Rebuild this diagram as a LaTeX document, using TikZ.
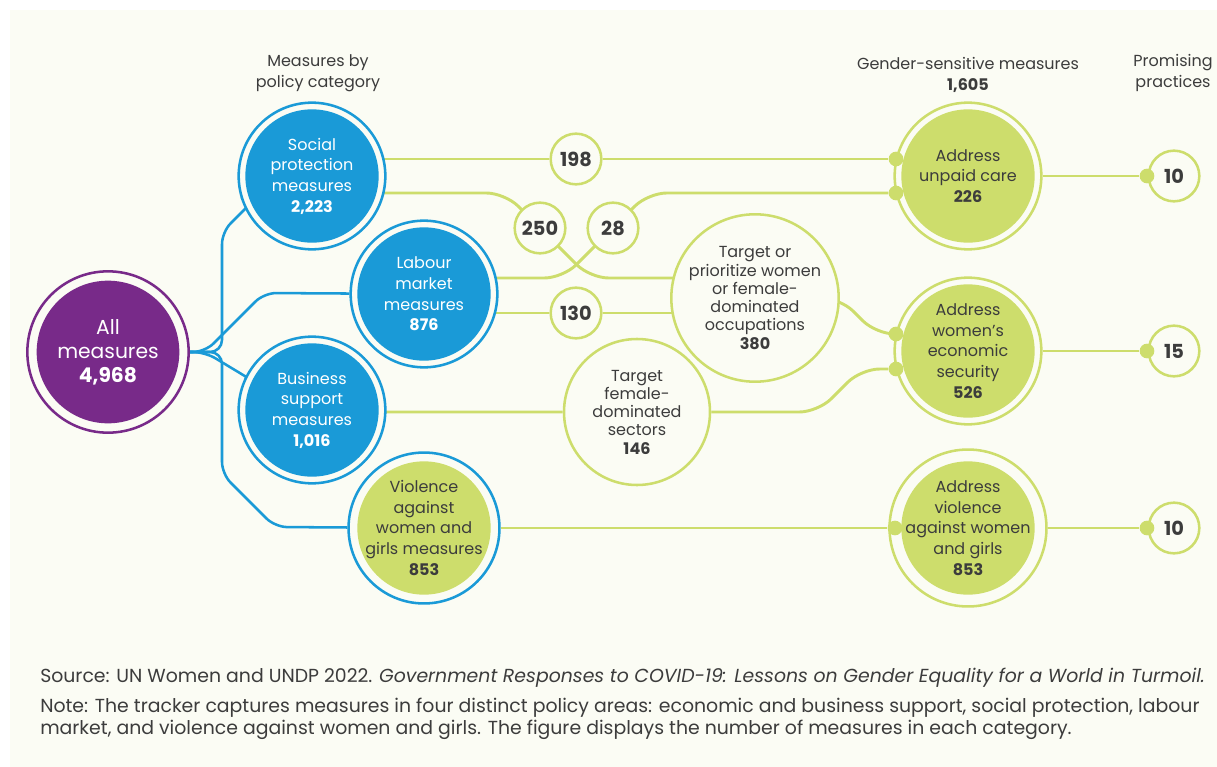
\documentclass[tikz,border=0pt]{standalone}
\usepackage{fontspec}
\setmainfont{Poppins}
\pgfdeclarelayer{paper}
\pgfdeclarelayer{lines}
\pgfsetlayers{paper,lines,main}

\definecolor{panel}{HTML}{FBFCF4}
\definecolor{unblue}{HTML}{1A9AD7}
\definecolor{unpurple}{HTML}{782A89}
\definecolor{ungreen}{HTML}{CDDD6C}
\definecolor{ink}{HTML}{3C3C3C}

\tikzset{
  ring/.style n args={2}{circle, draw=#1, line width=1.9pt, fill=panel, minimum size=110pt,
    inner sep=0pt, align=center, font=\fontsize{12}{15.5}\selectfont,
    path picture={\fill[#2] (path picture bounding box.center) circle (50pt);}},
  bigring/.style={circle, draw=#1, line width=1.9pt, fill=panel, minimum size=121pt,
    inner sep=0pt, align=center, font=\fontsize{15.2}{18}\selectfont,
    path picture={\fill[#1] (path picture bounding box.center) circle (53.5pt);}},
  hollow/.style={circle, draw=ungreen, line width=1.9pt, fill=panel, minimum size=#1,
    inner sep=0pt, align=center, text=ink, font=\fontsize{12}{13.7}\selectfont},
  bubble/.style={circle, draw=ungreen, line width=1.9pt, fill=panel, minimum size=38pt,
    inner sep=0pt, text=ink, font=\fontsize{14.5}{15}\selectfont\bfseries},
  dot/.style={circle, fill=ungreen, inner sep=0pt, minimum size=11pt},
  heading/.style={align=center, text=ink, font=\fontsize{12}{15.5}\selectfont},
  footer/.style={anchor=base west, inner sep=0pt, text=ink, font=\fontsize{14.15}{16}\selectfont},
  blueline/.style={draw=unblue, line width=1.9pt, rounded corners=9pt},
  greenline/.style={draw=ungreen, line width=2.2pt, rounded corners=14pt},
}

\begin{document}
\begin{tikzpicture}[x=0.75pt,y=-0.75pt]
  % Panel
  \begin{pgfonlayer}{paper}
    \fill[white] (0,0) rectangle (1217,767);
    \fill[panel] (10,10) rectangle (1217,767);
  \end{pgfonlayer}
  \useasboundingbox (0,0) rectangle (1217,767);

  % Column headings
  \node[heading] (hcat) at (318,73) {Measures by\\policy category};
  \node[heading] (hgen) at (968,75) {Gender-sensitive measures\\\textbf{1,605}};
  \node[heading] (hprom) at (1173,73) {Promising\\practices};

  % Measures by policy category
  \node[bigring=unpurple, text=white] (all) at (108,352) {All\\measures\\\textbf{4,968}};
  \node[ring={unblue}{unblue}, text=white] (social) at (312,176) {Social\\protection\\measures\\\textbf{2,223}};
  \node[ring={unblue}{unblue}, text=white] (labour) at (424,294) {Labour\\market\\measures\\\textbf{876}};
  \node[ring={unblue}{unblue}, text=white] (business) at (312,410) {Business\\support\\measures\\\textbf{1,016}};
  \node[ring={unblue}{ungreen}, text=ink] (violence) at (424,528) {Violence\\against\\women and\\girls measures\\\textbf{853}};

  % Overlaps
  \node[bubble] (n198) at (576,159) {198};
  \node[bubble] (n250) at (540,228) {250};
  \node[bubble] (n28) at (613,228) {28};
  \node[bubble] (n130) at (576,313) {130};
  \node[hollow=115.5pt] (prioritize) at (755,298) {Target or\\prioritize women\\or female-\\dominated\\occupations\\\textbf{380}};
  \node[hollow=109.5pt] (sectors) at (637,412) {Target\\female-\\dominated\\sectors\\\textbf{146}};

  % Gender-sensitive measures
  \node[ring={ungreen}{ungreen}, text=ink] (care) at (968,176) {Address\\unpaid care\\\textbf{226}};
  \node[ring={ungreen}{ungreen}, text=ink] (security) at (968,351) {Address\\women’s\\economic\\security\\\textbf{526}};
  \node[ring={ungreen}{ungreen}, text=ink] (vaw) at (968,528) {Address\\violence\\against women\\and girls\\\textbf{853}};

  % Promising practices
  \node[bubble] (p1) at (1174,176) {10};
  \node[bubble] (p2) at (1174,351) {15};
  \node[bubble] (p3) at (1174,528) {10};

  % Dots
  \node[dot] (d1) at (896,159) {};
  \node[dot] (d2) at (896,193) {};
  \node[dot] (d3) at (896,334) {};
  \node[dot] (d4) at (896,369) {};
  \node[dot] (d5) at (895,528) {};
  \node[dot] (e1) at (1147,176) {};
  \node[dot] (e2) at (1147,351) {};
  \node[dot] (e3) at (1147,528) {};

  \begin{pgfonlayer}{lines}
    % Blue branches
    \draw[blueline] (all) -- (222,352) -- (222,232) -- (262,192) -- (social);
    \draw[blueline] (all) -- (205,352) -- (264,293) -- (labour);
    \draw[blueline] (all) -- (205,352) -- (263,387) -- (business);
    \draw[blueline] (all) -- (222,352) -- (222,474) -- (275,527) -- (violence);

    % Green links
    \draw[greenline] (social |- d1) -- (n198) -- (d1);
    \draw[greenline] (social |- d2) -- (505,193) -- (590,278) -- (700,278) -- (prioritize);
    \draw[greenline] (labour) -- (440,278) -- (563,278) -- (648,193) -- (d2);
    \draw[greenline] (labour |- n130) -- (n130) -- (prioritize |- n130);
    \draw[greenline] (prioritize) -- (840,298) -- (876,334) -- (d3);
    \draw[greenline] (business |- sectors) -- (sectors) -- (818,412) -- (861,369) -- (d4);
    \draw[greenline] (violence) -- (d5);
    \draw[greenline] (care) -- (e1);
    \draw[greenline] (security) -- (e2);
    \draw[greenline] (vaw) -- (e3);
  \end{pgfonlayer}

  % Source and note
  \node[footer] (src) at (40,682) {Source: UN Women and UNDP 2022. \textit{Government Responses to COVID-19: Lessons on Gender Equality for a World in Turmoil.}};
  \node[footer] (note1) at (40,712) {Note: The tracker captures measures in four distinct policy areas: economic and business support, social protection, labour};
  \node[footer] (note2) at (40,734) {market, and violence against women and girls. The figure displays the number of measures in each category.};
\end{tikzpicture}
\end{document}
